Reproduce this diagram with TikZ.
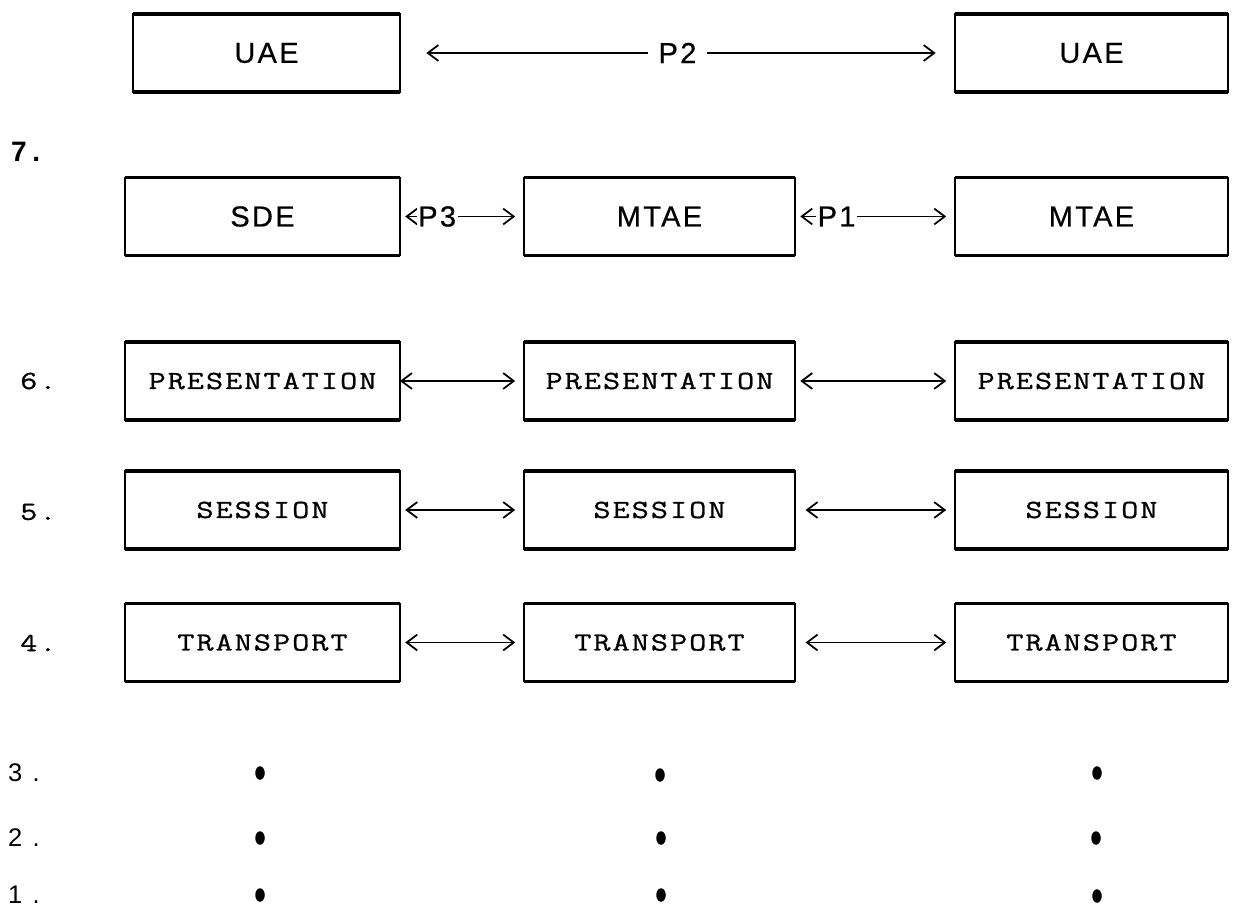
\documentclass[tikz,border=0pt]{standalone}
\usepackage{fontspec}
\usetikzlibrary{arrows.meta,shapes.geometric}
\newfontfamily\entfont[LetterSpace=8,FakeBold=0.6]{Liberation Sans}
\newfontfamily\layfont[FakeStretch=1.27,LetterSpace=8,FakeBold=1]{Latin Modern Mono}
\newfontfamily\digfont[LetterSpace=40]{Liberation Sans}
\newfontfamily\topnumfont[LetterSpace=20]{Liberation Sans}
\begin{document}
\begin{tikzpicture}[x=0.02cm,y=-0.02cm,
  box/.style={draw, line width=0.8pt, inner sep=0pt, outer sep=0pt, minimum height=1.56cm},
  colL/.style={box, minimum width=5.5cm},
  colM/.style={box, minimum width=5.42cm},
  colR/.style={box, minimum width=5.46cm},
  ent/.style={font=\entfont\fontsize{16.5pt}{19pt}\selectfont},
  lay/.style={font=\layfont\fontsize{14.85pt}{17pt}\selectfont},
  edge/.style={line width=1.8pt},
  link/.style={line width=1pt, {Straight Barb[length=6pt,width=9pt]}-{Straight Barb[length=6pt,width=9pt]}},
  plabel/.style={ent, fill=white, inner sep=3pt},
  levnum/.style={anchor=west, lay},
  lownum/.style={anchor=west, font=\digfont\fontsize{14.5pt}{17pt}\selectfont},
  dotmark/.style={ellipse, fill, inner sep=0pt, minimum width=0.19cm, minimum height=0.27cm}
]
\useasboundingbox (0,0) rectangle (1235,912);

% application entities
\node[box, minimum width=5.34cm, ent] (uaeL) at (266.5,53) {UAE};
\node[colR, ent] (uaeR) at (1091.5,53) {UAE};
\node[colL, ent] (sde)   at (262.5,216.5) {SDE};
\node[colM, ent] (mtaeM) at (659.5,216.5) {MTAE};
\node[colR, ent] (mtaeR) at (1091.5,216.5) {MTAE};

% layers 6, 5, 4
\node[colL, lay] (preL) at (262.5,381) {PRESENTATION};
\node[colM, lay] (preM) at (659.5,381) {PRESENTATION};
\node[colR, lay] (preR) at (1091.5,381) {PRESENTATION};
\node[colL, lay] (sesL) at (262.5,510) {SESSION};
\node[colM, lay] (sesM) at (659.5,510) {SESSION};
\node[colR, lay] (sesR) at (1091.5,510) {SESSION};
\node[colL, lay] (traL) at (262.5,642.5) {TRANSPORT};
\node[colM, lay] (traM) at (659.5,642.5) {TRANSPORT};
\node[colR, lay] (traR) at (1091.5,642.5) {TRANSPORT};

% heavier top and bottom edges
\foreach \n in {uaeL,uaeR,sde,mtaeM,mtaeR,preL,preM,preR,sesL,sesM,sesR,traL,traM,traR}{
  \draw[edge] (\n.north west) -- (\n.north east);
  \draw[edge] (\n.south west) -- (\n.south east);
}

% protocols between entities
\draw[link, shorten <=15pt, shorten >=11pt] (uaeL) -- node[plabel, inner xsep=6pt] (p2) {P2} (uaeR);
\draw[link, shorten <=3pt, shorten >=5pt] (sde) -- node[plabel, pos=0.3, inner sep=1pt] (p3) {P3} (mtaeM);
\draw[link, shorten <=3pt, shorten >=5pt] (mtaeM) -- node[plabel, pos=0.26, inner sep=1pt] (p1) {P1} (mtaeR);

% peer links between layers
\draw[link, shorten >=5pt] (preL) -- (preM);
\draw[link, shorten <=3pt, shorten >=5pt] (preM) -- (preR);
\draw[link, shorten <=3pt, shorten >=5pt] (sesL) -- (sesM);
\draw[link, shorten <=6pt, shorten >=5pt] (sesM) -- (sesR);
\draw[link, shorten <=3pt, shorten >=5pt] (traL) -- (traM);
\draw[link, shorten <=6pt, shorten >=5pt] (traM) -- (traR);

% layer numbers
\node[anchor=west, font=\topnumfont\bfseries\fontsize{16pt}{18pt}\selectfont] (n7) at (5,152) {7.};
\node[levnum] (n6) at (14,381) {6.};
\node[levnum] (n5) at (14,512) {5.};
\node[levnum] (n4) at (14,643) {4.};
\node[lownum] (n3) at (2,773) {3.};
\node[lownum] (n2) at (2,838) {2.};
\node[lownum] (n1) at (2,895) {1.};

% lower layers, elided
\node[dotmark] (d3L) at (260,773) {};
\node[dotmark] (d3M) at (660,775) {};
\node[dotmark] (d3R) at (1097,773) {};
\node[dotmark] (d2L) at (260,838) {};
\node[dotmark] (d2M) at (661,838) {};
\node[dotmark] (d2R) at (1096,838) {};
\node[dotmark] (d1L) at (260,895) {};
\node[dotmark] (d1M) at (661,895) {};
\node[dotmark] (d1R) at (1097,896) {};
\end{tikzpicture}
\end{document}
